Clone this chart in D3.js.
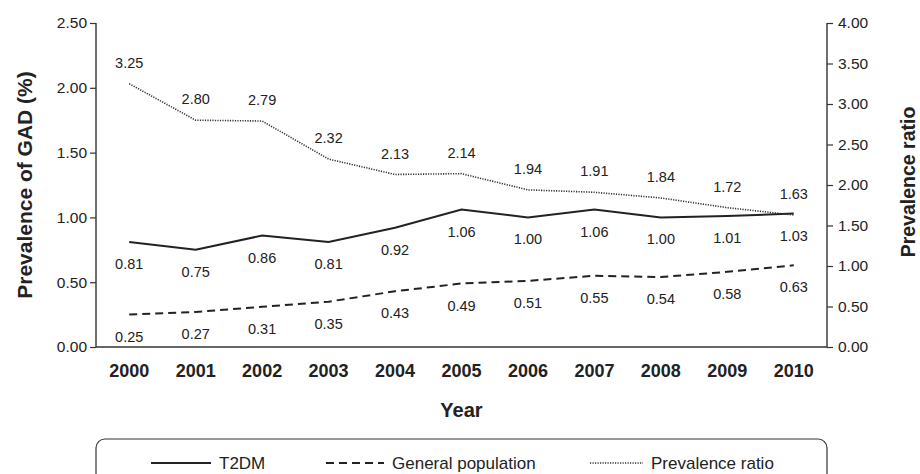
<!DOCTYPE html>
<html>
<head>
<meta charset="utf-8">
<script src="https://cdn.jsdelivr.net/npm/d3@7"></script>
<style>
  body { margin: 0; background: #fff; }
  svg { font-family: "Liberation Sans", Arial, sans-serif; }
  text { fill: #222; }
</style>
</head>
<body>
<div id="chart"></div>
<script>
var years = ['2000', '2001', '2002', '2003', '2004', '2005', '2006', '2007', '2008', '2009', '2010']
var t2dm = [0.81, 0.75, 0.86, 0.81, 0.92, 1.06, 1.00, 1.06, 1.00, 1.01, 1.03]
var general = [0.25, 0.27, 0.31, 0.35, 0.43, 0.49, 0.51, 0.55, 0.54, 0.58, 0.63]
var ratio = [3.25, 2.80, 2.79, 2.32, 2.13, 2.14, 1.94, 1.91, 1.84, 1.72, 1.63]
var leftTicks = [0, 0.5, 1, 1.5, 2, 2.5]
var rightTicks = [0, 0.5, 1, 1.5, 2, 2.5, 3, 3.5, 4]
var legendNames = ['T2DM', 'General population', 'Prevalence ratio']

var width = 920, height = 474
var margin = {left: 96, right: 93, top: 23, bottom: 127}

var svg = d3.select('#chart').append('svg')
  .attr('width', width).attr('height', height)

var g = svg.append('g').attr('transform', 'translate(' + margin.left + ',' + margin.top + ')')
var w = width - margin.left - margin.right
var h = height - margin.top - margin.bottom

var x = d3.scalePoint().domain(years).range([0, w]).padding(0.5)
var yL = d3.scaleLinear().domain([0, 2.5]).range([h, 0])
var yR = d3.scaleLinear().domain([0, 4]).range([h, 0])

var fmt = d3.format('.2f')

// axes
var leftAxis = d3.axisLeft(yL).tickValues(leftTicks).tickFormat(fmt).tickSize(6).tickPadding(3)
var rightAxis = d3.axisRight(yR).tickValues(rightTicks).tickFormat(fmt).tickSize(6).tickPadding(5)

function styleAxis(sel){
  sel.select('.domain').attr('stroke', '#333').attr('stroke-width', 1.4).attr('d', 'M0,0V' + h)
  sel.selectAll('.tick line').attr('stroke', '#333').attr('stroke-width', 1.2)
  sel.selectAll('.tick text').attr('font-size', 15.5).style('fill', '#222')
}

g.append('g').call(leftAxis).call(styleAxis)
g.append('g').attr('transform', 'translate(' + w + ',0)').call(rightAxis).call(styleAxis)

g.append('line')
  .attr('x1', 0).attr('x2', w).attr('y1', h).attr('y2', h)
  .attr('stroke', '#333').attr('stroke-width', 1.4)

// year labels
g.selectAll('text.year').data(years).enter().append('text')
  .attr('class', 'year')
  .attr('x', function(d){ return x(d) })
  .attr('y', h + 30)
  .attr('text-anchor', 'middle')
  .attr('font-size', 18).attr('font-weight', 'bold')
  .text(function(d){ return d })

// axis titles
g.append('text')
  .attr('x', w / 2).attr('y', h + 70)
  .attr('text-anchor', 'middle')
  .attr('font-size', 20).attr('font-weight', 'bold')
  .text('Year')

g.append('text')
  .attr('transform', 'translate(' + (-64) + ',' + (h / 2) + ') rotate(-90)')
  .attr('text-anchor', 'middle')
  .attr('font-size', 21).attr('font-weight', 'bold')
  .text('Prevalence of GAD (%)')

g.append('text')
  .attr('transform', 'translate(' + (w + 88) + ',' + (h / 2 - 3) + ') rotate(-90)')
  .attr('text-anchor', 'middle')
  .attr('font-size', 19.5).attr('font-weight', 'bold')
  .text('Prevalence ratio')

// lines
var series = [
  {values: t2dm, y: yL, dash: null, width: 2, color: '#222', dy: 22},
  {values: general, y: yL, dash: '8,5', width: 2, color: '#222', dy: 22},
  {values: ratio, y: yR, dash: '1.2,1.3', width: 1.6, color: '#333', dy: -21}
]

series.forEach(function(s){
  var line = d3.line()
    .x(function(d, i){ return x(years[i]) })
    .y(function(d){ return s.y(d) })

  g.append('path')
    .attr('d', line(s.values))
    .attr('fill', 'none')
    .attr('stroke', s.color)
    .attr('stroke-width', s.width)
    .attr('stroke-dasharray', s.dash)

  g.selectAll(null).data(s.values).enter().append('text')
    .attr('x', function(d, i){ return x(years[i]) })
    .attr('y', function(d){ return s.y(d) + s.dy })
    .attr('dy', '0.35em')
    .attr('text-anchor', 'middle')
    .attr('font-size', 14.5)
    .text(fmt)
})

// legend
var lg = svg.append('g')
lg.append('rect')
  .attr('x', margin.left).attr('y', 439).attr('width', w).attr('height', 60)
  .attr('rx', 9)
  .attr('fill', 'none').attr('stroke', '#333').attr('stroke-width', 1.2)

var legendX = [151, 326, 590]
var legendLen = [60, 58, 53]
legendNames.forEach(function(name, i){
  var s = series[i]
  var ly = 463
  lg.append('line')
    .attr('x1', legendX[i]).attr('x2', legendX[i] + legendLen[i])
    .attr('y1', ly).attr('y2', ly)
    .attr('stroke', s.color).attr('stroke-width', s.width)
    .attr('stroke-dasharray', s.dash)
  lg.append('text')
    .attr('x', legendX[i] + legendLen[i] + 8).attr('y', ly)
    .attr('dy', '0.35em')
    .attr('font-size', 17)
    .text(name)
})
</script>
</body>
</html>
